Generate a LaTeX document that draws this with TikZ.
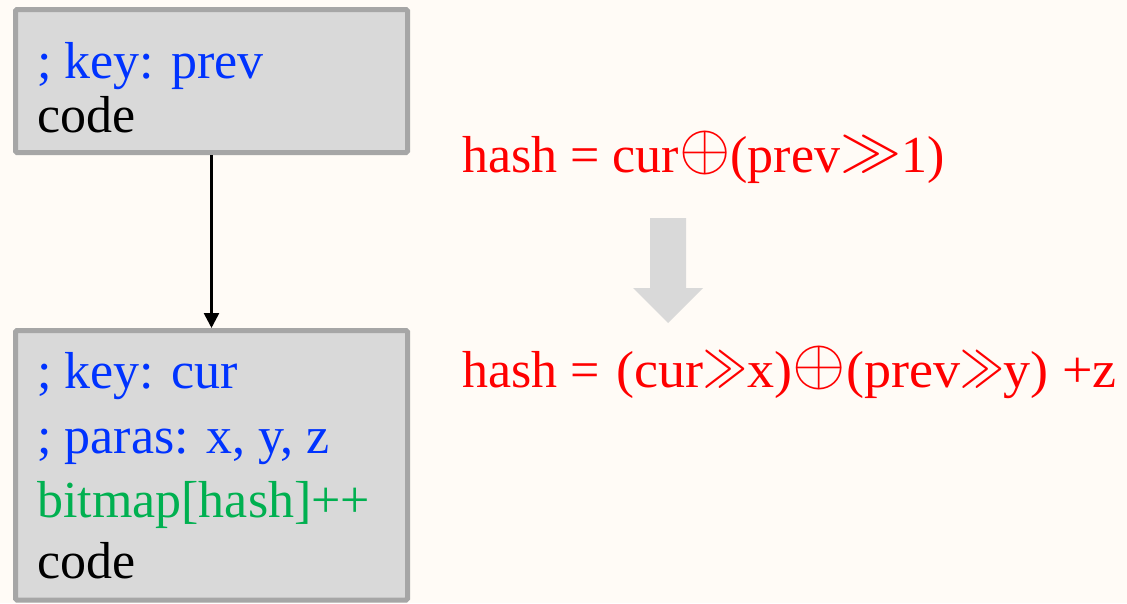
\documentclass[tikz,border=0pt]{standalone}
\usepackage{fontspec}
\setmainfont{Liberation Serif}
\usetikzlibrary{arrows.meta}
\definecolor{bg}{HTML}{FFFBF6}
\definecolor{boxfill}{HTML}{D9D9D9}
\definecolor{boxline}{HTML}{A6A6A6}
\definecolor{keyblue}{HTML}{0033FF}
\definecolor{opgreen}{HTML}{00B050}
\definecolor{hashred}{HTML}{FF0000}
% large operator glyphs, built from 10pt math symbols
\newcommand{\xorop}{\raisebox{3pt}{\scalebox{6.6}{\fontsize{10}{12}\selectfont$\oplus$}}}
\newcommand{\shr}{\raisebox{2.2pt}{\scalebox{6.1}{\fontsize{10}{12}\selectfont$\gg$}}}
\newcommand{\shrnarrow}{\raisebox{2.2pt}{\scalebox{4.2}[6.1]{\fontsize{10}{12}\selectfont$\gg$}}}
\begin{document}
\begin{tikzpicture}[x=1pt,y=-1pt,
  codebox/.style={draw=boxline,fill=boxfill,line width=5pt,rounded corners=1.5pt,inner sep=0pt},
  codeline/.style={anchor=base west,inner sep=0pt,font=\fontsize{52}{60}\selectfont},
  formula/.style={anchor=base west,inner sep=0pt,text=hashred,font=\fontsize{52}{60}\selectfont},
  link/.style={line width=2.6pt,-{Triangle[width=15pt,length=15pt]}}]
  \fill[bg] (0,0) rectangle (1127,603);
  \useasboundingbox (0,0) rectangle (1127,603);

  % code blocks
  \node[codebox,minimum width=392pt,minimum height=143pt] (prevblk) at (211.5,81) {};
  \node[codebox,minimum width=392pt,minimum height=269.5pt] (curblk) at (211.5,465.25) {};

  \node[codeline,text=keyblue] (pkey) at (37,78) {; key: prev};
  \node[codeline] (pcode) at (37,132) {code};

  \node[codeline,text=keyblue] (ckey) at (37,388) {; key: cur};
  \node[codeline,text=keyblue] (cparas) at (37,453) {; paras: x, y, z};
  \node[codeline,text=opgreen] (cbitmap) at (37,517) {bitmap[hash]++};
  \node[codeline] (ccode) at (37,578) {code};

  \draw[link] (prevblk.south) -- (curblk.north);

  % hash functions
  \node[formula] (oldhash) at (462,172) {hash = cur\xorop(prev\shr1)};
  \node[formula] (newhash) at (462,387)
    {hash = \hspace{4pt}\scalebox{1.04}[1]{(cur\shrnarrow x)\xorop(prev\shrnarrow y) +z}};

  % refinement arrow
  \fill[boxfill] (650,218) -- (686,218) -- (686,288) -- (703,288) -- (668,323)
    -- (633,288) -- (650,288) -- cycle;
\end{tikzpicture}
\end{document}
